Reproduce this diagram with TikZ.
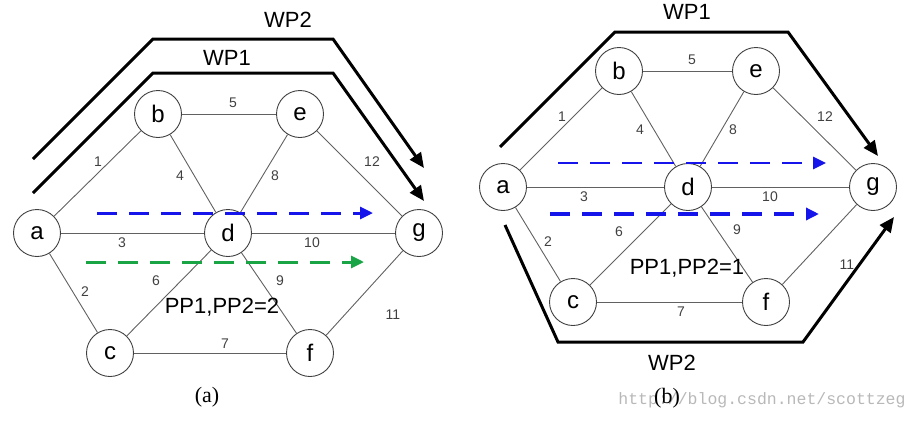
\documentclass[tikz,border=0pt]{standalone}
\usepackage{fontspec}
\setmainfont{Liberation Sans}
\newfontfamily\serifed{Liberation Serif}
\newfontfamily\monoed{Liberation Mono}
\usetikzlibrary{arrows.meta}
\definecolor{ppblue}{RGB}{20,20,235}
\definecolor{ppgreen}{RGB}{25,165,70}
\begin{document}
\begin{tikzpicture}[x=1pt,y=-1pt,
  vtx/.style={circle, draw=black!75, line width=0.9pt, fill=white, minimum size=47pt, inner sep=0pt, font=\fontsize{24}{24}\selectfont},
  edg/.style={draw=black!62, line width=0.9pt},
  num/.style={font=\fontsize{14}{14}\selectfont, text=black!75, inner sep=0pt},
  big/.style={font=\fontsize{22}{22}\selectfont, inner sep=0pt},
  wp/.style={line width=3pt, line join=miter, -{Triangle[length=15pt,width=13pt]}},
  pp/.style={line width=3pt, dash pattern=on 20pt off 12pt, -{Triangle[length=13pt,width=12pt]}},
  subcap/.style={font=\serifed\fontsize{22}{22}\selectfont, inner sep=0pt},
]
\useasboundingbox (0,0) rectangle (919,421);
% ---------- (a) ----------
\node[vtx] (aa) at (37,233) {a};
\node[vtx] (ab) at (158,114) {b};
\node[vtx] (ae) at (300,114) {e};
\node[vtx] (ad) at (228,233) {d};
\node[vtx] (ag) at (419,233) {g};
\node[vtx] (ac) at (110,353) {c};
\node[vtx] (af) at (310,353) {f};
\draw[edg] (aa) -- (ab);
\draw[edg] (aa) -- (ac);
\draw[edg] (aa) -- (ad);
\draw[edg] (ab) -- (ad);
\draw[edg] (ab) -- (ae);
\draw[edg] (ac) -- (ad);
\draw[edg] (ac) -- (af);
\draw[edg] (ae) -- (ad);
\draw[edg] (ad) -- (af);
\draw[edg] (ad) -- (ag);
\draw[edg] (af) -- (ag);
\draw[edg] (ae) -- (ag);
\node[num] (an1) at (98,162) {1};
\node[num] (an2) at (85,292) {2};
\node[num] (an3) at (122,243) {3};
\node[num] (an4) at (180,176) {4};
\node[num] (an5) at (233,103) {5};
\node[num] (an6) at (156,281) {6};
\node[num] (an7) at (225,344) {7};
\node[num] (an8) at (275,176) {8};
\node[num] (an9) at (280,281) {9};
\node[num] (an10) at (312,243) {10};
\node[num] (an11) at (393,315) {11};
\node[num] (an12) at (372,162) {12};
\coordinate (aw2a) at (33,159);
\coordinate (aw2b) at (153,39);
\coordinate (aw2c) at (333,39);
\coordinate (aw2d) at (424,168);
\draw[wp] (aw2a) -- (aw2b) -- (aw2c) -- (aw2d);
\coordinate (aw1a) at (33,193);
\coordinate (aw1b) at (153,73);
\coordinate (aw1c) at (333,73);
\coordinate (aw1d) at (424,201);
\draw[wp] (aw1a) -- (aw1b) -- (aw1c) -- (aw1d);
\node[big] (awp2) at (288,20) {WP2};
\node[big] (awp1) at (227,58) {WP1};
\coordinate (abs) at (97,213);
\coordinate (abe) at (373,213);
\draw[pp, ppblue] (abs) -- (abe);
\coordinate (ags) at (86,262);
\coordinate (age) at (364,262);
\draw[pp, ppgreen] (ags) -- (age);
\node[big] (app) at (222,307) {PP1,PP2=2};
\node[subcap] (acap) at (207,397) {(a)};
% ---------- (b) ----------
\node[vtx] (ba) at (503,187) {a};
\node[vtx] (bb) at (619,71) {b};
\node[vtx] (be) at (756,71) {e};
\node[vtx] (bd) at (688,187) {d};
\node[vtx] (bg) at (873,187) {g};
\node[vtx] (bc) at (573,302) {c};
\node[vtx] (bf) at (766,302) {f};
\draw[edg] (ba) -- (bb);
\draw[edg] (ba) -- (bc);
\draw[edg] (ba) -- (bd);
\draw[edg] (bb) -- (bd);
\draw[edg] (bb) -- (be);
\draw[edg] (bc) -- (bd);
\draw[edg] (bc) -- (bf);
\draw[edg] (be) -- (bd);
\draw[edg] (bd) -- (bf);
\draw[edg] (bd) -- (bg);
\draw[edg] (bf) -- (bg);
\draw[edg] (be) -- (bg);
\node[num] (bn1) at (562,117) {1};
\node[num] (bn2) at (548,242) {2};
\node[num] (bn3) at (584,197) {3};
\node[num] (bn4) at (640,130) {4};
\node[num] (bn5) at (692,60) {5};
\node[num] (bn6) at (619,232) {6};
\node[num] (bn7) at (681,312) {7};
\node[num] (bn8) at (733,130) {8};
\node[num] (bn9) at (737,230) {9};
\node[num] (bn10) at (770,197) {10};
\node[num] (bn11) at (847,265) {11};
\node[num] (bn12) at (825,117) {12};
\coordinate (bw1a) at (500,147);
\coordinate (bw1b) at (615,32);
\coordinate (bw1c) at (788,32);
\coordinate (bw1d) at (878,156);
\draw[wp] (bw1a) -- (bw1b) -- (bw1c) -- (bw1d);
\coordinate (bw2a) at (505,225);
\coordinate (bw2b) at (558,342);
\coordinate (bw2c) at (803,342);
\coordinate (bw2d) at (894,217);
\draw[wp] (bw2a) -- (bw2b) -- (bw2c) -- (bw2d);
\node[big] (bwp1) at (687,12) {WP1};
\node[big] (bwp2) at (672,363) {WP2};
\coordinate (bbs) at (558,163);
\coordinate (bbe) at (826,163);
\draw[pp, ppblue, line width=2.6pt] (bbs) -- (bbe);
\coordinate (bls) at (550,214);
\coordinate (ble) at (819,214);
\draw[pp, ppblue, line width=3.4pt] (bls) -- (ble);
\node[big] (bpp) at (687,268) {PP1,PP2=1};
\node[font=\monoed\fontsize{16.5}{16.5}\selectfont, text=black!28, inner sep=0pt] (wm) at (762,400) {http://blog.csdn.net/scottzeg};
\node[subcap] (bcap) at (667,398) {(b)};
\end{tikzpicture}
\end{document}
